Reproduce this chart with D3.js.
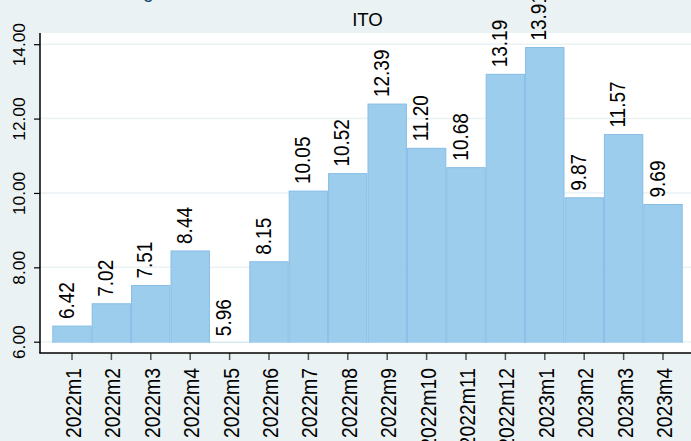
<!DOCTYPE html>
<html>
<head>
<meta charset="utf-8">
<script src="https://cdn.jsdelivr.net/npm/d3@7"></script>
<style>
  html, body { margin: 0; padding: 0; background: #eaf2f3; }
  svg { display: block; font-family: Arial, "Liberation Sans", Helvetica, sans-serif; }
</style>
</head>
<body>
<svg id="chart" width="691" height="441"></svg>
<script>
const months = ["2022m1","2022m2","2022m3","2022m4","2022m5","2022m6","2022m7","2022m8",
                "2022m9","2022m10","2022m11","2022m12","2023m1","2023m2","2023m3","2023m4"];
const values = [6.42, 7.02, 7.51, 8.44, 5.96, 8.15, 10.05, 10.52,
                12.39, 11.20, 10.68, 13.19, 13.91, 9.87, 11.57, 9.69];
const yTicks = [6, 8, 10, 12, 14];
const titleText = "ITO";

const W = 691, H = 441;
const plot = { left: 40, top: 33, right: 691, bottom: 353 };

const svg = d3.select("#chart");

// outer background
svg.append("rect").attr("width", W).attr("height", H).attr("fill", "#eaf2f3");

// cut-off text fragment at top (outer graph title)
svg.append("text").attr("x", 143).attr("y", -2.5)
  .attr("font-size", 19).attr("fill", "#1a476f").text("g");

// plot region
svg.append("rect")
  .attr("x", plot.left).attr("y", plot.top)
  .attr("width", plot.right - plot.left).attr("height", plot.bottom - plot.top)
  .attr("fill", "#ffffff");

const x = d3.scaleBand().domain(months).range([52.3, 52.3 + 39.4 * months.length]).padding(0);
const y = d3.scaleLinear().domain([6, 14]).range([341.7, 44.2]);

// gridlines
svg.append("g").selectAll("line").data(yTicks).join("line")
  .attr("x1", plot.left).attr("x2", plot.right)
  .attr("y1", d => y(d)).attr("y2", d => y(d))
  .attr("stroke", "#eaf2f3").attr("stroke-width", 1.5);

// clip bars to the visible axis range (bars drawn from base 0)
svg.append("defs").append("clipPath").attr("id", "barclip")
  .append("rect")
  .attr("x", plot.left).attr("y", plot.top)
  .attr("width", plot.right - plot.left)
  .attr("height", y(6) + 1 - plot.top);

svg.append("g").attr("clip-path", "url(#barclip)")
  .selectAll("rect").data(values).join("rect")
  .attr("x", (d, i) => x(months[i]) + 0.5)
  .attr("width", x.bandwidth() - 1)
  .attr("y", d => y(d))
  .attr("height", d => y(0) - y(d))
  .attr("fill", "#9ccdec")
  .attr("stroke", "#86bde6")
  .attr("stroke-width", 1);

// value labels
const fmt = d3.format(".2f");
svg.append("g").selectAll("text").data(values).join("text")
  .attr("transform", (d, i) => {
    const cx = x(months[i]) + x.bandwidth() / 2 + 1.5;
    const ty = y(d) - 7;
    return `translate(${cx},${ty}) rotate(-90) scale(1,1.15)`;
  })
  .attr("text-anchor", "start")
  .attr("font-size", 19)
  .attr("fill", "#000")
  .text(d => fmt(d));

// y axis
const yAxis = d3.axisLeft(y).tickValues(yTicks).tickSize(6).tickFormat(d3.format(".2f"));
const gy = svg.append("g").attr("transform", `translate(${plot.left},0)`).call(yAxis);
gy.select(".domain").remove();
gy.selectAll(".tick line").attr("stroke", "#000").attr("stroke-width", 1.2);
gy.selectAll(".tick text")
  .attr("x", null).attr("dy", null)
  .attr("transform", "translate(-15,0) rotate(-90)")
  .attr("text-anchor", "middle")
  .attr("font-size", 17.3)
  .attr("font-family", "Arial, 'Liberation Sans', sans-serif")
  .attr("fill", "#000");
svg.append("line")
  .attr("x1", plot.left).attr("x2", plot.left)
  .attr("y1", plot.top).attr("y2", plot.bottom)
  .attr("stroke", "#000").attr("stroke-width", 1.5);

// x axis
const xAxis = d3.axisBottom(x).tickSize(7);
const gx = svg.append("g").attr("transform", `translate(0,${plot.bottom})`).call(xAxis);
gx.select(".domain").remove();
gx.selectAll(".tick line").attr("stroke", "#555").attr("stroke-width", 1.5);
gx.selectAll(".tick text")
  .attr("x", null).attr("y", null).attr("dy", null)
  .attr("transform", "translate(9,15) rotate(-90) scale(1,1.1)")
  .attr("text-anchor", "end")
  .attr("font-size", 19.4)
  .attr("font-family", "Arial, 'Liberation Sans', sans-serif")
  .attr("fill", "#000");
svg.append("line")
  .attr("x1", plot.left - 0.75).attr("x2", plot.right)
  .attr("y1", plot.bottom).attr("y2", plot.bottom)
  .attr("stroke", "#000").attr("stroke-width", 1.5);

// title
svg.append("text")
  .attr("x", 367.5).attr("y", 25.5)
  .attr("text-anchor", "middle")
  .attr("font-size", 18.6)
  .attr("fill", "#000")
  .text(titleText);
</script>
</body>
</html>
